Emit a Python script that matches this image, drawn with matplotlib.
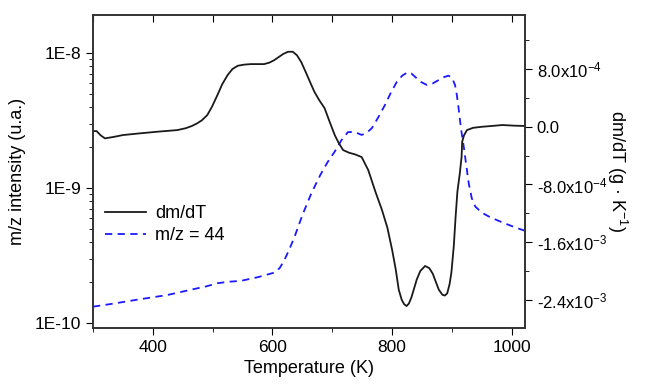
import matplotlib
matplotlib.use('Agg')
import matplotlib.pyplot as plt
from matplotlib.ticker import MultipleLocator, LogLocator, NullFormatter

plt.rcParams['font.family'] = ['Liberation Sans', 'DejaVu Sans']
plt.rcParams['mathtext.fontset'] = 'custom'
plt.rcParams['mathtext.rm'] = 'Liberation Sans'
plt.rcParams['mathtext.it'] = 'Liberation Sans:italic'
plt.rcParams['mathtext.default'] = 'rm'

# dm/dT curve (g/K)
temp_dm = [300, 306, 313, 320, 335, 350, 380, 407, 441, 455, 465, 474, 482,
           491, 499, 508, 516, 525, 533, 542, 553, 564, 575, 586, 595, 603,
           611, 618, 626, 634, 641, 648, 656, 665, 670, 678, 687, 695, 704,
           711, 718, 728, 738, 749, 760, 772, 783, 792, 800, 806, 811, 816,
           820, 824, 828, 832, 836, 841, 847, 855, 862, 868, 872, 878, 884,
           888, 892, 896, 899, 903, 906, 909, 913, 916, 917, 920, 925, 935,
           950, 965, 984, 1005, 1026]
dmdt = [-0.60, -0.60, -1.20, -1.61, -1.40, -1.15, -0.90, -0.69, -0.46, -0.20,
        0.10, 0.47, 0.90, 1.62, 2.80, 4.40, 5.90, 7.17, 8.00, 8.46, 8.62,
        8.69, 8.69, 8.69, 8.90, 9.24, 9.70, 10.10, 10.40, 10.40, 9.90, 8.97,
        7.50, 5.78, 4.85, 3.70, 2.59, 0.80, -1.15, -2.30, -3.23, -3.60, -3.83,
        -4.20, -6.0, -9.01, -11.55, -14.0, -17.1, -19.8, -22.6, -24.0, -24.6,
        -24.86, -24.5, -23.7, -22.6, -21.2, -20.0, -19.3, -19.6, -20.4,
        -21.3, -22.6, -23.3, -23.4, -23.1, -21.8, -20.2, -16.5, -12.5, -9.0,
        -6.5, -4.16, -2.08, -1.20, -0.46, -0.15, 0.0, 0.10, 0.24, 0.15, 0.10]
dmdt = [v * 1e-4 for v in dmdt]

# m/z = 44 ion current
temp_ms = [300, 329, 379, 424, 463, 490, 508, 527, 547, 575, 603, 612, 620,
           628, 637, 650, 665, 680, 692, 704, 715, 726, 737, 749, 757, 766,
           777, 788, 798, 808, 817, 826, 832, 838, 848, 858, 868, 878, 886,
           894, 900, 905, 908, 911, 915, 920, 924, 928, 933, 939, 950, 962,
           978, 995, 1010, 1026]
mz44 = [1.32e-10, 1.38e-10, 1.50e-10, 1.61e-10, 1.76e-10, 1.87e-10, 1.97e-10,
        2.02e-10, 2.05e-10, 2.18e-10, 2.36e-10, 2.55e-10, 2.93e-10, 3.50e-10,
        4.36e-10, 6.30e-10, 9.14e-10, 1.25e-9, 1.55e-9, 1.86e-9, 2.25e-9,
        2.59e-9, 2.60e-9, 2.47e-9, 2.55e-9, 2.77e-9, 3.35e-9, 4.12e-9,
        5.10e-9, 6.13e-9, 6.80e-9, 7.19e-9, 7.05e-9, 6.67e-9, 6.10e-9,
        5.79e-9, 5.95e-9, 6.31e-9, 6.60e-9, 6.79e-9, 6.55e-9, 5.79e-9,
        4.90e-9, 3.89e-9, 2.75e-9, 1.97e-9, 1.45e-9, 1.08e-9, 8.40e-10,
        7.27e-10, 6.55e-10, 6.13e-10, 5.70e-10, 5.32e-10, 5.02e-10, 4.75e-10]

left_ticks = [1e-10, 1e-9, 1e-8]
left_labels = ['1E-10', '1E-9', '1E-8']
right_ticks = [-2.4e-3, -1.6e-3, -8.0e-4, 0.0, 8.0e-4]
right_labels = [r'-2.4x10$^{-3}$', r'-1.6x10$^{-3}$', r'-8.0x10$^{-4}$', '0.0',
                r'8.0x10$^{-4}$']

fig = plt.figure(figsize=(6.48, 3.86), dpi=100)
ax = fig.add_axes([0.1435, 0.1503, 0.6667, 0.8109])
ax2 = ax.twinx()

ms_line, = ax.plot(temp_ms, mz44, color='#1a1aff', lw=1.3, ls=(0, (4, 3)),
                   label='m/z = 44')
dm_line, = ax2.plot(temp_dm, dmdt, color='#1a1a1a', lw=1.3, label='dm/dT')

ax.set_yscale('log')
ax.set_xlim(300, 1022)
ax.set_ylim(9.18e-11, 1.91e-8)
ax2.set_ylim(-2.79e-3, 1.55e-3)

ax.set_yticks(left_ticks)
ax.set_yticklabels(left_labels)
ax.yaxis.set_minor_locator(LogLocator(base=10, subs=range(2, 10)))
ax.yaxis.set_minor_formatter(NullFormatter())
ax2.set_yticks(right_ticks)
ax2.set_yticklabels(right_labels)
ax2.yaxis.set_minor_locator(MultipleLocator(4e-4))

ax.xaxis.set_major_locator(MultipleLocator(200))
ax.xaxis.set_minor_locator(MultipleLocator(100))

ax.tick_params(axis='x', which='both', direction='out', labelsize=12.5,
               top=False)
ax.tick_params(axis='x', which='major', length=5)
ax.tick_params(axis='x', which='minor', length=3)
ax.tick_params(axis='y', which='major', direction='out', length=5,
               labelsize=12.5)
ax.tick_params(axis='y', which='minor', direction='out', length=3)
ax2.tick_params(axis='y', which='major', direction='out', length=5,
                labelsize=12)
ax2.tick_params(axis='y', which='minor', direction='out', length=3)

# inward ticks along the top edge every 100 K
top = ax.secondary_xaxis('top')
top.xaxis.set_major_locator(MultipleLocator(100))
top.tick_params(direction='in', length=5, labeltop=False)

for a in (ax, ax2):
    for s in a.spines.values():
        s.set_color('#333333')
        s.set_linewidth(1.2)
top.spines['top'].set_visible(False)

ax.set_xlabel('Temperature (K)', fontsize=13)
ax.set_ylabel('m/z intensity (u.a.)', fontsize=13, labelpad=6)
ax2.set_ylabel('dm/dT (g · K$^{-1}$)', fontsize=13, rotation=270,
               labelpad=16)

ax2.legend([dm_line, ms_line], ['dm/dT', 'm/z = 44'], loc='center left',
           bbox_to_anchor=(-0.01, 0.33), frameon=False, fontsize=13,
           handlelength=2.3, handletextpad=0.5, labelspacing=0.3)

fig.savefig('out.png', dpi=100)
